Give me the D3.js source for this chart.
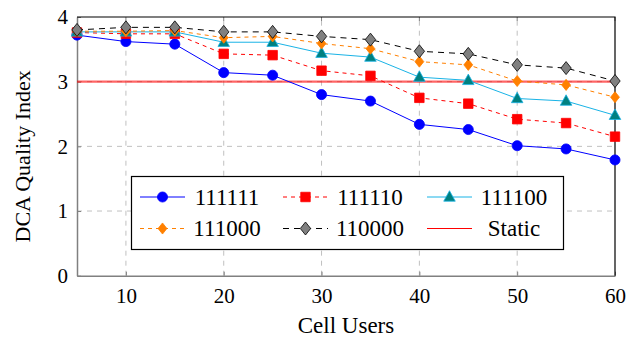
<!DOCTYPE html>
<html>
<head>
<meta charset="utf-8">
<script src="https://cdn.jsdelivr.net/npm/d3@7"></script>
<style>
  body { margin: 0; background: #fff; }
  text { font-family: "Liberation Serif", "DejaVu Serif", serif; }
</style>
</head>
<body>
<div id="chart"></div>
<script>
// data
var users = [5, 10, 15, 20, 25, 30, 35, 40, 45, 50, 55, 60];
var s111111 = [3.72, 3.62, 3.58, 3.14, 3.10, 2.80, 2.70, 2.34, 2.26, 2.01, 1.96, 1.79];
var s111110 = [3.76, 3.74, 3.74, 3.43, 3.41, 3.17, 3.09, 2.75, 2.66, 2.42, 2.36, 2.15];
var s111100 = [3.77, 3.77, 3.77, 3.61, 3.61, 3.44, 3.38, 3.07, 3.02, 2.74, 2.70, 2.48];
var s111000 = [3.78, 3.78, 3.79, 3.68, 3.70, 3.59, 3.51, 3.31, 3.26, 3.01, 2.95, 2.76];
var s110000 = [3.80, 3.84, 3.84, 3.77, 3.77, 3.70, 3.65, 3.47, 3.43, 3.26, 3.21, 3.01];
var staticValue = 3.0;
var xTicks = [10, 20, 30, 40, 50, 60];
var yTicks = [0, 1, 2, 3, 4];

var W = 634, H = 337;
var pLeft = 77, pRight = 615, pTop = 17, pBottom = 275.7;

// custom marker shapes
var diamondWide = { draw: function(ctx, size) {
    var h = Math.sqrt(size) * 0.62, w = h * 0.8;
    ctx.moveTo(0, -h); ctx.lineTo(w, 0); ctx.lineTo(0, h); ctx.lineTo(-w, 0); ctx.closePath();
} };
var triUp = { draw: function(ctx, size) {
    var s = Math.sqrt(size);
    ctx.moveTo(0, -s * 0.6); ctx.lineTo(s * 0.55, s * 0.4); ctx.lineTo(-s * 0.55, s * 0.4); ctx.closePath();
} };

var series = [
    { name: '111111', values: s111111, line: '#0000ff', dash: null, sym: d3.symbolCircle, size: 80, fill: '#0000ff', stroke: '#0000ff' },
    { name: '111110', values: s111110, line: '#ff0000', dash: '4,4', sym: d3.symbolSquare, size: 90, fill: '#ff0000', stroke: '#ff0000' },
    { name: '111100', values: s111100, line: '#19b3e6', dash: null, sym: triUp, size: 110, fill: '#008080', stroke: '#19b3e6' },
    { name: '111000', values: s111000, line: '#ff8000', dash: '4,4', sym: diamondWide, size: 80, fill: '#ff8000', stroke: '#ff8000' },
    { name: '110000', values: s110000, line: '#000000', dash: '6,5', sym: diamondWide, size: 110, fill: '#808080', stroke: '#000000' }
];

var svg = d3.select('#chart').append('svg')
    .attr('width', W).attr('height', H);

var x = d3.scaleLinear().domain([5, 60]).range([pLeft, pRight]);
var y = d3.scaleLinear().domain([0, 4]).range([pBottom, pTop]);

// grid
svg.append('g').selectAll('line')
    .data(xTicks.filter(function(d) { return d < 60; }))
    .join('line')
    .attr('x1', d => x(d)).attr('x2', d => x(d))
    .attr('y1', y(0)).attr('y2', y(4))
    .attr('stroke', '#c0c0c0').attr('stroke-dasharray', '5,5').attr('stroke-width', 1);
svg.append('g').selectAll('line')
    .data([1, 2, 3])
    .join('line')
    .attr('x1', x(5)).attr('x2', x(60))
    .attr('y1', d => y(d)).attr('y2', d => y(d))
    .attr('stroke', '#c0c0c0').attr('stroke-dasharray', '5,5').attr('stroke-width', 1);

// axes
var xAxis = svg.append('g')
    .attr('transform', 'translate(0,' + pBottom + ')')
    .call(d3.axisBottom(x).tickValues(xTicks).tickSizeInner(-4).tickSizeOuter(0).tickPadding(12));
var yAxis = svg.append('g')
    .attr('transform', 'translate(' + pLeft + ',0)')
    .call(d3.axisLeft(y).tickValues(yTicks).tickFormat(d3.format('d')).tickSizeInner(-4).tickSizeOuter(0).tickPadding(9));
[xAxis, yAxis].forEach(function(a) {
    a.select('.domain').attr('stroke', '#808080').attr('stroke-width', 1.5);
    a.selectAll('.tick line').attr('stroke', '#808080');
    a.selectAll('.tick text').attr('font-size', '21px').attr('fill', '#000')
        .style('font-family', '"Liberation Serif", serif');
});
// top ticks
svg.append('g').selectAll('line')
    .data(xTicks).join('line')
    .attr('x1', d => x(d)).attr('x2', d => x(d))
    .attr('y1', pTop).attr('y2', pTop + 4)
    .attr('stroke', '#808080');
// top and right border
svg.append('path')
    .attr('d', 'M' + pLeft + ',' + pTop + 'H' + pRight + 'V' + pBottom)
    .attr('fill', 'none').attr('stroke', '#000').attr('stroke-width', 1.2);

// static line
svg.append('line')
    .attr('x1', x(5)).attr('x2', x(60))
    .attr('y1', y(staticValue)).attr('y2', y(staticValue))
    .attr('stroke', '#ff0000').attr('stroke-opacity', 0.6).attr('stroke-width', 2.2);

var line = d3.line().x((d, i) => x(users[i])).y(d => y(d));

series.forEach(function(s) {
    svg.append('path')
        .datum(s.values)
        .attr('d', line)
        .attr('fill', 'none')
        .attr('stroke', s.line)
        .attr('stroke-width', 1)
        .attr('stroke-dasharray', s.dash);
    svg.append('g').selectAll('path')
        .data(s.values).join('path')
        .attr('transform', (d, i) => 'translate(' + x(users[i]) + ',' + y(d) + ')')
        .attr('d', d3.symbol().type(s.sym).size(s.size))
        .attr('fill', s.fill).attr('stroke', s.stroke).attr('stroke-width', 0.8);
});

// legend
var lg = svg.append('g');
lg.append('rect')
    .attr('x', 131.5).attr('y', 176.5).attr('width', 432).attr('height', 73)
    .attr('fill', '#fff').attr('stroke', '#000').attr('stroke-width', 1.2);
var legendItems = series.concat([{ name: 'Static', line: '#ff0000', dash: null, sym: null }]);
var colX = [140, 283, 427];
var rowY = [197, 228.5];
legendItems.forEach(function(s, i) {
    var cx = colX[i % 3], cy = rowY[Math.floor(i / 3)];
    lg.append('line')
        .attr('x1', cx).attr('x2', cx + 45).attr('y1', cy).attr('y2', cy)
        .attr('stroke', s.line).attr('stroke-width', 1)
        .attr('stroke-dasharray', s.dash);
    if (s.sym) {
        lg.append('path')
            .attr('transform', 'translate(' + (cx + 22.5) + ',' + cy + ')')
            .attr('d', d3.symbol().type(s.sym).size(s.size))
            .attr('fill', s.fill).attr('stroke', s.stroke).attr('stroke-width', 0.8);
    }
    lg.append('text')
        .attr('x', cx + 87).attr('y', cy + 7.5)
        .attr('text-anchor', 'middle')
        .attr('font-size', '23px')
        .text(s.name);
});

// axis titles
svg.append('text')
    .attr('x', (pLeft + pRight) / 2).attr('y', 333)
    .attr('text-anchor', 'middle').attr('font-size', '23px')
    .text('Cell Users');
svg.append('text')
    .attr('transform', 'rotate(-90)')
    .attr('x', -(pTop + pBottom) / 2 - 10).attr('y', 30)
    .attr('text-anchor', 'middle').attr('font-size', '22px')
    .text('DCA Quality Index');
</script>
</body>
</html>
